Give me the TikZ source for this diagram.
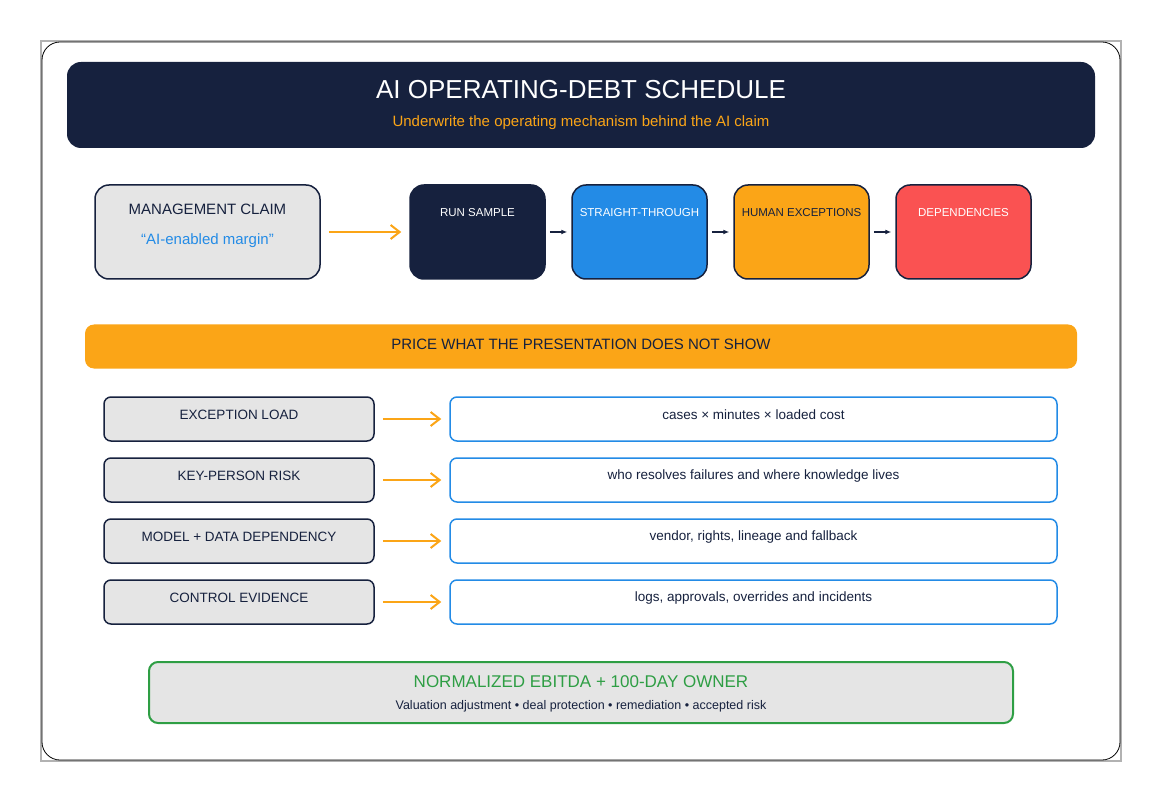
\documentclass[tikz,border=0pt]{standalone}
\usepackage{fontspec}
\setmainfont{Liberation Sans}
\usetikzlibrary{arrows.meta}
\definecolor{navy}{HTML}{16213E}
\definecolor{blu}{HTML}{238BE6}
\definecolor{org}{HTML}{FBA517}
\definecolor{rd}{HTML}{FA5252}
\definecolor{gr}{HTML}{E5E5E5}
\definecolor{grn}{HTML}{2E9E44}
\tikzset{
 box/.style={draw=navy,line width=1.5pt,rounded corners=14pt,fill=gr},
 stepbox/.style={draw=navy,line width=1.5pt,rounded corners=14pt},
 rbox/.style={draw=blu,line width=1.5pt,rounded corners=7pt,fill=white},
 lbox/.style={draw=navy,line width=1.5pt,rounded corners=7pt,fill=gr},
 oarr/.style={draw=org,line width=2pt,-{Straight Barb[length=9pt,width=14pt]}},
 karr/.style={draw=navy,line width=1.2pt,-{Latex[length=6pt,width=5pt]}},
 lab/.style={font=\fontsize{13.5}{15}\selectfont,text=navy},
 slab/.style={font=\fontsize{11.5}{13}\selectfont},
}
\begin{document}
\begin{tikzpicture}[x=1pt,y=-1pt]
\useasboundingbox (0,0) rectangle (1162,802);
\draw[gray!60,line width=1.5pt] (41,41) rectangle (1121,761);
\draw[black,line width=0.8pt,rounded corners=18pt] (42,42) rectangle (1120,760);
\node[draw=none,fill=navy,rounded corners=14pt,minimum width=1028pt,minimum height=86pt] (hdr) at (581,105) {};
\node[text=white,font=\fontsize{26}{30}\selectfont] (title) at (581,90) {AI OPERATING-DEBT SCHEDULE};
\node[text=org,font=\fontsize{15}{18}\selectfont] (sub) at (581,123) {Underwrite the operating mechanism behind the AI claim};
\node[box,minimum width=225pt,minimum height=94pt] (mc) at (207.5,232) {};
\node[lab,font=\fontsize{15}{18}\selectfont] at (207.5,209) {MANAGEMENT CLAIM};
\node[text=blu,font=\fontsize{15}{18}\selectfont] at (207.5,241) {“AI-enabled margin”};
\node[stepbox,fill=navy,minimum width=135pt,minimum height=94pt] (s1) at (477.5,232) {};
\node[stepbox,fill=blu,minimum width=135pt,minimum height=94pt] (s2) at (639.5,232) {};
\node[stepbox,fill=org,minimum width=135pt,minimum height=94pt] (s3) at (801.5,232) {};
\node[stepbox,fill=rd,minimum width=135pt,minimum height=94pt] (s4) at (963.5,232) {};
\node[slab,text=white] at (477.5,213) {RUN SAMPLE};
\node[slab,text=white] at (639.5,213) {STRAIGHT-THROUGH};
\node[slab,text=navy] at (801.5,213) {HUMAN EXCEPTIONS};
\node[slab,text=white] at (963.5,213) {DEPENDENCIES};
\draw[oarr] ([xshift=8pt]mc.east) -- ([xshift=-8pt]s1.west);
\draw[karr] ([xshift=4pt]s1.east) -- ([xshift=-4pt]s2.west);
\draw[karr] ([xshift=4pt]s2.east) -- ([xshift=-4pt]s3.west);
\draw[karr] ([xshift=4pt]s3.east) -- ([xshift=-4pt]s4.west);
\node[fill=org,rounded corners=9pt,minimum width=992pt,minimum height=44pt] (band) at (581,346.5) {};
\node[lab,font=\fontsize{15}{18}\selectfont] at (581,344) {PRICE WHAT THE PRESENTATION DOES NOT SHOW};
\foreach \i/\y/\l/\r in {1/419/EXCEPTION LOAD/{cases × minutes × loaded cost},
 2/480/KEY-PERSON RISK/{who resolves failures and where knowledge lives},
 3/541/MODEL + DATA DEPENDENCY/{vendor, rights, lineage and fallback},
 4/602/CONTROL EVIDENCE/{logs, approvals, overrides and incidents}}{
 \node[lbox,minimum width=270pt,minimum height=44pt] (l\i) at (239,\y) {};
 \node[lab] at (239,\y-4) {\l};
 \node[rbox,minimum width=607pt,minimum height=44pt] (r\i) at (753.5,\y) {};
 \node[lab] at (753.5,\y-4) {\r};
 \draw[oarr] ([xshift=8pt]l\i.east) -- ([xshift=-8pt]r\i.west);
}
\node[draw=grn,line width=2pt,fill=gr,rounded corners=9pt,minimum width=864pt,minimum height=61pt] (out) at (581,692.5) {};
\node[text=grn,font=\fontsize{17}{20}\selectfont] at (581,682) {NORMALIZED EBITDA + 100-DAY OWNER};
\node[text=navy,font=\fontsize{12.5}{15}\selectfont] at (581,706) {Valuation adjustment • deal protection • remediation • accepted risk};
\end{tikzpicture}
\end{document}
